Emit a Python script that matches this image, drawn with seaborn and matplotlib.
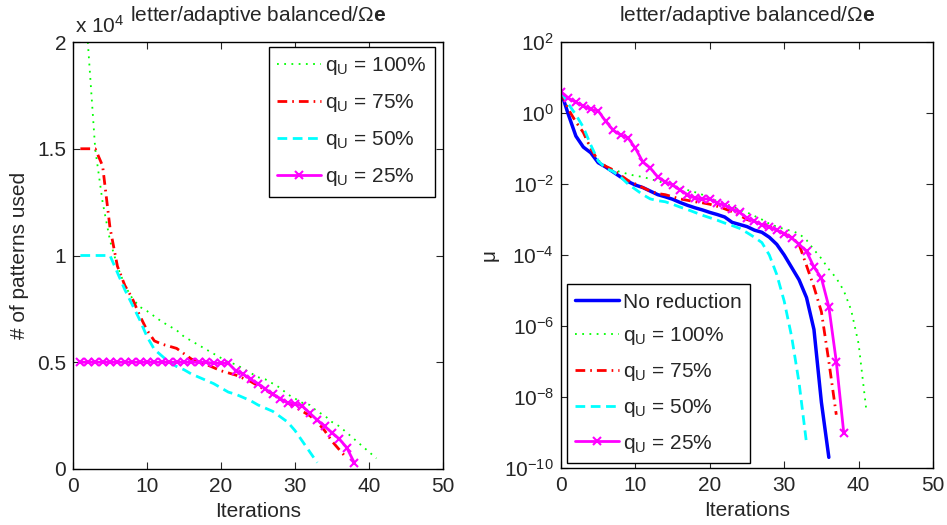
import numpy as np
import pandas as pd
import matplotlib
matplotlib.use("Agg")
import matplotlib.pyplot as plt
import seaborn as sns
from matplotlib.ticker import FixedLocator, FixedFormatter, FuncFormatter, NullLocator

# ---------------- data ----------------
# Left panel: number of patterns used (units of 1e4), indexed by iteration
it_q100_left = list(range(2, 42))
patterns_q100 = [2.0, 1.5, 1.25, 1.07, 0.95, 0.86, 0.80, 0.76, 0.74, 0.715,
                 0.69, 0.67, 0.65, 0.62, 0.60, 0.58, 0.56, 0.54, 0.52, 0.50,
                 0.49, 0.47, 0.45, 0.43, 0.42, 0.40, 0.38, 0.35, 0.33, 0.31,
                 0.30, 0.27, 0.25, 0.22, 0.20, 0.17, 0.14, 0.11, 0.08, 0.05]
it_q75_left = list(range(1, 38))
patterns_q75 = [1.5, 1.5, 1.5, 1.42, 1.13, 0.95, 0.86, 0.80, 0.72, 0.65,
                0.60, 0.585, 0.575, 0.565, 0.54, 0.515, 0.50, 0.49, 0.475, 0.46,
                0.45, 0.44, 0.425, 0.41, 0.39, 0.37, 0.35, 0.33, 0.31, 0.29,
                0.27, 0.25, 0.22, 0.18, 0.13, 0.09, 0.05]
it_q50_left = list(range(1, 34))
patterns_q50 = [1.0, 1.0, 1.0, 1.0, 1.0, 0.92, 0.84, 0.77, 0.70, 0.62,
                0.56, 0.53, 0.50, 0.48, 0.465, 0.445, 0.43, 0.415, 0.40, 0.38,
                0.36, 0.35, 0.335, 0.32, 0.30, 0.285, 0.27, 0.245, 0.22, 0.18,
                0.13, 0.08, 0.03]
it_q25_left = list(range(1, 39))
patterns_q25 = [0.5, 0.5, 0.5, 0.5, 0.5, 0.5, 0.5, 0.5, 0.5, 0.5,
                0.5, 0.5, 0.5, 0.5, 0.5, 0.5, 0.5, 0.5, 0.495, 0.495,
                0.495, 0.46, 0.445, 0.42, 0.40, 0.375, 0.35, 0.33, 0.31, 0.305,
                0.295, 0.26, 0.23, 0.20, 0.17, 0.14, 0.10, 0.03]

# Right panel: mu, stored as log10 exponents, indexed by iteration from 0
log_mu_noreduction = [0.6, -0.05, -0.65, -0.96, -1.12, -1.40, -1.52, -1.66, -1.80, -1.93,
                      -2.03, -2.10, -2.20, -2.30, -2.36, -2.43, -2.52, -2.60, -2.67, -2.73,
                      -2.80, -2.86, -2.93, -3.08, -3.14, -3.20, -3.30, -3.36, -3.50, -3.70,
                      -4.00, -4.35, -4.70, -5.20, -6.10, -8.15, -9.70]
log_mu_q100 = [0.6, 0.1, -0.25, -0.55, -1.0, -1.35, -1.50, -1.60, -1.66, -1.72,
               -1.77, -1.80, -1.86, -1.92, -1.98, -2.05, -2.10, -2.17, -2.23, -2.30,
               -2.40, -2.48, -2.55, -2.63, -2.72, -2.80, -2.90, -3.00, -3.12, -3.20,
               -3.27, -3.32, -3.40, -3.58, -3.85, -4.10, -4.40, -4.65, -5.00, -5.55,
               -6.50, -8.30]
log_mu_q75 = [0.6, 0.1, -0.25, -0.55, -1.0, -1.35, -1.50, -1.60, -1.75, -1.90,
              -2.00, -2.10, -2.20, -2.27, -2.30, -2.36, -2.42, -2.46, -2.50, -2.53,
              -2.57, -2.63, -2.70, -2.78, -2.88, -3.00, -3.07, -3.13, -3.20, -3.30,
              -3.40, -3.50, -3.70, -4.30, -4.90, -5.60, -7.00, -8.50]
log_mu_q50 = [0.6, 0.25, -0.05, -0.40, -0.90, -1.35, -1.55, -1.65, -1.80, -2.00,
              -2.15, -2.30, -2.42, -2.47, -2.50, -2.57, -2.65, -2.72, -2.80, -2.88,
              -2.95, -3.02, -3.10, -3.17, -3.25, -3.37, -3.50, -3.65, -4.00, -4.55,
              -5.30, -6.30, -7.60, -9.30]
log_mu_q25 = [0.6, 0.42, 0.30, 0.20, 0.10, 0.06, -0.23, -0.48, -0.62, -0.70,
              -0.99, -1.38, -1.55, -1.80, -1.94, -2.03, -2.17, -2.30, -2.40, -2.42,
              -2.42, -2.54, -2.60, -2.70, -2.80, -2.96, -3.05, -3.15, -3.22, -3.30,
              -3.40, -3.52, -3.70, -3.90, -4.34, -4.65, -5.46, -7.00, -9.00]

labels = ["No reduction", "q$_\\mathregular{U}$ = 100%", "q$_\\mathregular{U}$ = 75%",
          "q$_\\mathregular{U}$ = 50%", "q$_\\mathregular{U}$ = 25%"]
title_text = "letter/adaptive balanced/$\\Omega\\mathbf{e}$"

# ---------------- style ----------------
sns.set_style("ticks")
FONT = "Liberation Sans"
plt.rcParams.update({
    "font.family": [FONT, "DejaVu Sans"],
    "mathtext.fontset": "custom",
    "mathtext.rm": FONT,
    "mathtext.it": FONT + ":italic",
    "mathtext.bf": FONT + ":bold",
    "font.size": 15,
    "axes.linewidth": 1.0,
    "xtick.direction": "in", "ytick.direction": "in",
    "xtick.top": True, "ytick.right": True,
    "xtick.major.size": 5, "ytick.major.size": 5,
    "xtick.major.width": 0.8, "ytick.major.width": 0.8,
    "xtick.major.pad": 6, "ytick.major.pad": 5,
    "xtick.labelsize": 15, "ytick.labelsize": 15,
    "axes.edgecolor": "black",
    "legend.numpoints": 1,
})

W, H = 947, 525
fig = plt.figure(figsize=(W / 100, H / 100), dpi=100)
ax1 = fig.add_axes([73 / W, 1 - 469 / H, 370 / W, 427 / H])
ax2 = fig.add_axes([561 / W, 1 - 468 / H, 372 / W, 426 / H])

GREEN, RED, CYAN, MAG, BLUE = "#00ff00", "#ff0000", "#00ffff", "#ff00ff", "#0000ff"
sty_q100 = dict(color=GREEN, lw=1.3, linestyle=(0, (1, 3)))
sty_q75 = dict(color=RED, lw=2.0, linestyle=(0, (3.5, 1.8, 0.6, 1.8)))
sty_q50 = dict(color=CYAN, lw=2.0, linestyle=(0, (3.5, 2.0)))
sty_q25 = dict(color=MAG, lw=2.0, linestyle="-", marker="x", markersize=5.5,
               markeredgewidth=1.5, markeredgecolor=MAG)
sty_none = dict(color=BLUE, lw=2.5, linestyle="-")

LEG = dict(fancybox=False, framealpha=1, edgecolor="black", handlelength=2.1,
           handletextpad=0.2, borderpad=0.4, fontsize=15,
           borderaxespad=0, numpoints=1)

# ---------------- left panel ----------------
sns.lineplot(x=it_q100_left, y=patterns_q100, ax=ax1, label=labels[1], **sty_q100)
sns.lineplot(x=it_q75_left, y=patterns_q75, ax=ax1, label=labels[2], **sty_q75)
sns.lineplot(x=it_q50_left, y=patterns_q50, ax=ax1, label=labels[3], **sty_q50)
sns.lineplot(x=it_q25_left, y=patterns_q25, ax=ax1, label=labels[4], **sty_q25)
ax1.set_xlim(0, 50)
ax1.set_ylim(0, 2)
ax1.xaxis.set_major_locator(FixedLocator([0, 10, 20, 30, 40, 50]))
ax1.yaxis.set_major_locator(FixedLocator([0, 0.5, 1, 1.5, 2]))
ax1.yaxis.set_major_formatter(FixedFormatter(["0", "0.5", "1", "1.5", "2"]))
ax1.set_xlabel("Iterations", labelpad=4)
ax1.set_ylabel("# of patterns used", labelpad=6)
ax1.set_title(title_text, fontsize=15, pad=15)
ax1.text(0.005, 1.012, "x 10$^\\mathregular{4}$", transform=ax1.transAxes,
         ha="left", va="bottom", fontsize=15)
leg1 = ax1.legend(loc="upper right", bbox_to_anchor=(0.978, 0.988),
                  labelspacing=0.72, **LEG)
leg1.get_frame().set_linewidth(1.0)

# ---------------- right panel ----------------
def series(logs):
    return list(range(len(logs))), [10.0 ** v for v in logs]

for logs, lab, sty in [(log_mu_noreduction, labels[0], sty_none),
                       (log_mu_q100, labels[1], sty_q100),
                       (log_mu_q75, labels[2], sty_q75),
                       (log_mu_q50, labels[3], sty_q50),
                       (log_mu_q25, labels[4], sty_q25)]:
    xs, ys = series(logs)
    sns.lineplot(x=xs, y=ys, ax=ax2, label=lab, **sty)
ax2.set_yscale("log")
ax2.set_xlim(0, 50)
ax2.set_ylim(1e-10, 1e2)
ax2.xaxis.set_major_locator(FixedLocator([0, 10, 20, 30, 40, 50]))
ax2.yaxis.set_major_locator(FixedLocator([10.0 ** k for k in range(-10, 3, 2)]))
ax2.yaxis.set_minor_locator(NullLocator())
ax2.yaxis.set_major_formatter(FuncFormatter(
    lambda v, p: "10$^{\\mathregular{%d}}$" % int(round(np.log10(v)))))
ax2.set_xlabel("Iterations", labelpad=4)
ax2.set_ylabel("\u03bc", labelpad=4)
ax2.set_title(title_text, fontsize=15, pad=15)
leg2 = ax2.legend(loc="lower left", bbox_to_anchor=(0.016, 0.012),
                  labelspacing=0.66, **LEG)
leg2.get_frame().set_linewidth(1.0)

for ax in (ax1, ax2):
    ax.tick_params(which="both", top=True, right=True, direction="in")
    for s in ax.spines.values():
        s.set_visible(True)
        s.set_color("black")

fig.savefig("out.png", dpi=100)
